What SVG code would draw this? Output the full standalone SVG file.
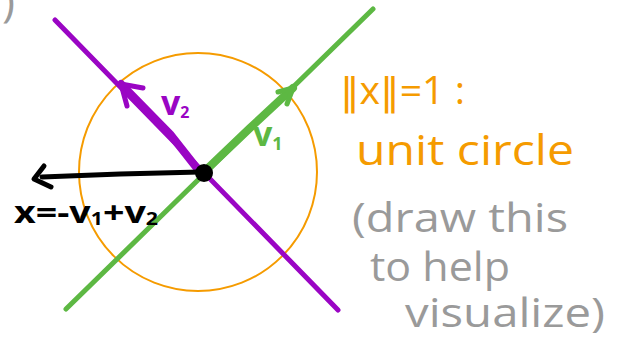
<svg xmlns="http://www.w3.org/2000/svg" width="618" height="340" viewBox="0 0 618 340">
<style>
.hand{font-family:"Open Sans","DejaVu Sans",sans-serif;}
.axis{fill:none;stroke-width:5;stroke-linecap:round;}
.vec{fill:none;stroke-linecap:round;stroke-linejoin:round;}
.orange{fill:#f59b00;}
.gray{fill:#9a9a9a;}
</style>
<rect width="618" height="340" fill="#ffffff"/>
<g id="stray-paren">
<text class="hand gray" x="2" y="16" font-size="44">)</text>
</g>
<g id="unit-circle">
<circle cx="198" cy="172" r="119" fill="none" stroke="#f59b00" stroke-width="2"/>
</g>
<g id="connectors">
<line class="axis" x1="55" y1="20" x2="338" y2="310" stroke="#9a05c4"/>
<line class="axis" x1="66" y1="309" x2="373" y2="9" stroke="#5db843"/>
<path class="vec" d="M196 167 L170 134 L121 84" stroke="#9a05c4" stroke-width="8"/>
<path class="vec" d="M121 84 L143 88 M121 84 L127 106" stroke="#9a05c4" stroke-width="5"/>
<path class="vec" d="M206 170 L250 128 L293 88" stroke="#5db843" stroke-width="8"/>
<path class="vec" d="M293 88 L278 92 M293 88 L287 104" stroke="#5db843" stroke-width="5"/>
<path class="vec" d="M200 172 L120 174 L42 177" stroke="#000" stroke-width="5"/>
<path class="vec" d="M44 166 L34 179 L51 187" stroke="#000" stroke-width="5"/>
</g>
<g id="origin">
<circle cx="204" cy="173" r="9" fill="#000"/>
</g>
<g id="label-v2">
<text class="hand" x="161" y="115" font-size="34" font-weight="bold" fill="#9a05c4">v<tspan font-size="16" dy="3">2</tspan></text>
</g>
<g id="label-v1">
<text class="hand" x="253" y="146" font-size="34" font-weight="bold" fill="#5db843">v<tspan font-size="18" dy="4">1</tspan></text>
</g>
<g id="label-x">
<text class="hand" x="14" y="223" font-size="30" font-weight="bold" fill="#000" textLength="144" lengthAdjust="spacingAndGlyphs">x=-v<tspan font-size="17" dy="2">1</tspan><tspan dy="-2">+v</tspan><tspan font-size="17" dy="2">2</tspan></text>
</g>
<g id="note">
<text class="hand orange" x="340" y="104" font-size="38" textLength="125" lengthAdjust="spacingAndGlyphs">‖x‖=1 :</text>
<text class="hand orange" x="356" y="165" font-size="42" textLength="218" lengthAdjust="spacingAndGlyphs">unit circle</text>
<text class="hand gray" x="352" y="232" font-size="40" textLength="216" lengthAdjust="spacingAndGlyphs">(draw this</text>
<text class="hand gray" x="370" y="281" font-size="40" textLength="140" lengthAdjust="spacingAndGlyphs">to help</text>
<text class="hand gray" x="405" y="327" font-size="40" textLength="200" lengthAdjust="spacingAndGlyphs">visualize)</text>
</g>
</svg>
